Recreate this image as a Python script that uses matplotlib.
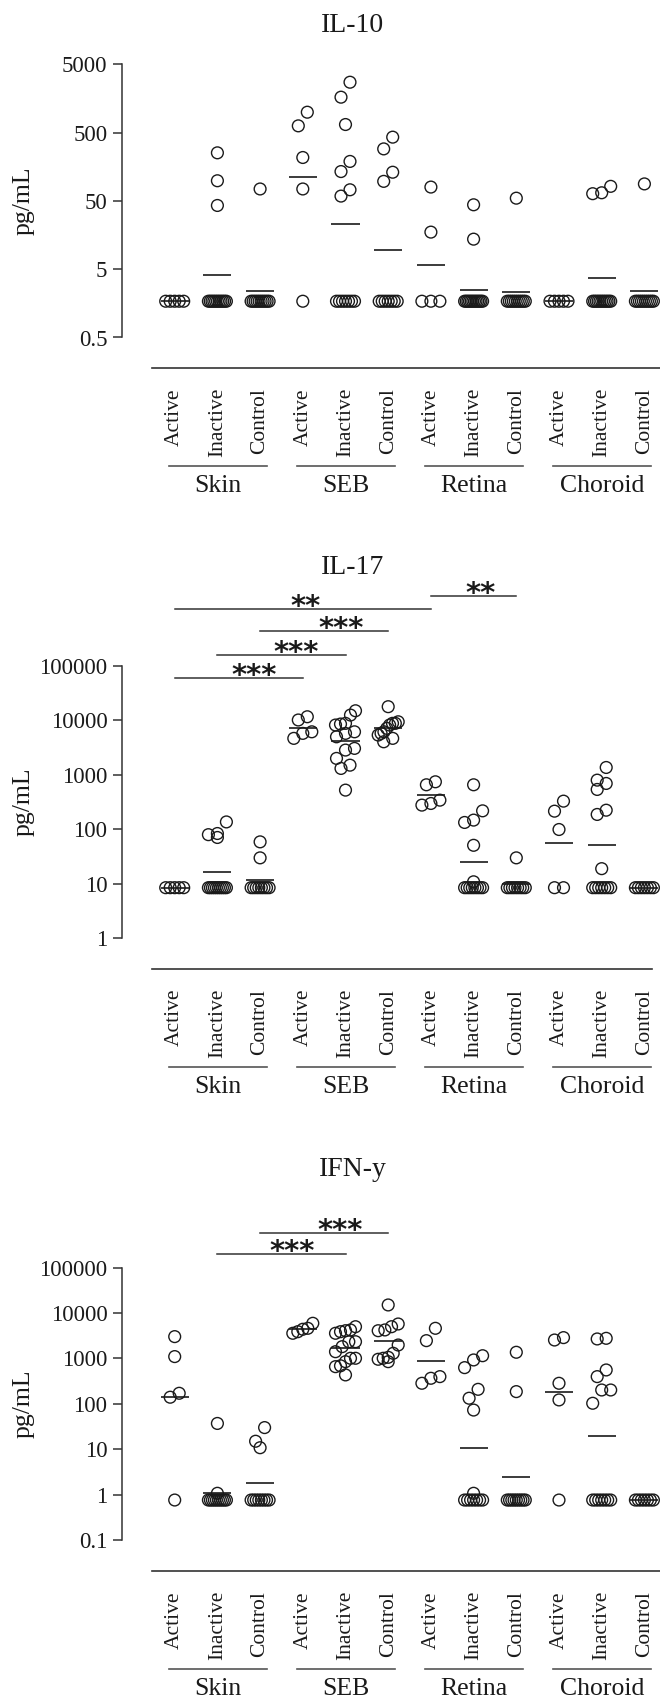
import numpy as np
import matplotlib.pyplot as plt
from matplotlib.ticker import NullLocator

W, H = 660, 1701
plt.rcParams['font.family'] = ['Liberation Serif', 'DejaVu Serif']

groups = ['Skin', 'SEB', 'Retina', 'Choroid']
conditions = ['Active', 'Inactive', 'Control']

# detected values per column: Skin A/I/C, SEB A/I/C, Retina A/I/C, Choroid A/I/C
il10_values = [[], [254, 99, 43], [75],
               [1000, 631, 217, 75], [2750, 1660, 660, 190, 135, 73, 59], [431, 290, 132, 97],
               [80, 17.5], [44, 13.8], [55],
               [], [82, 66, 64], [89]]
il10_lod_n = [5, 11, 10, 1, 7, 7, 3, 12, 10, 5, 11, 10]
il10_lod = 1.7

il17_values = [[], [137, 84, 80, 71], [59, 30],
               [11700, 10200, 6190, 5790, 4690],
               [15070, 12560, 8850, 8590, 8240, 6190, 5790, 5010, 3070, 2860, 2010, 1510, 1315, 526],
               [17900, 9460, 8850, 8850, 8240, 7160, 6190, 5790, 5400, 4690, 4060],
               [748, 659, 344, 299, 279], [659, 219, 148, 134, 51, 10.9], [30],
               [330, 216, 99.5], [1370, 802, 697, 541, 225, 188, 19], []]
il17_lod_n = [5, 10, 8, 0, 0, 0, 0, 8, 8, 2, 7, 7]
il17_lod = 8.5

ifn_values = [[3030, 1100, 171, 140], [37, 1.07], [30, 15, 10.8],
              [5960, 4620, 4400, 3890, 3590],
              [5010, 4250, 4090, 3890, 3590, 2340, 2340, 1820, 1410, 1010, 1010, 850, 690, 660, 434],
              [15100, 5750, 5010, 4250, 4090, 1980, 1300, 1060, 1010, 960, 850],
              [4620, 2470, 398, 366, 284], [1150, 927, 628, 209, 133, 73, 1.07], [1370, 186],
              [2880, 2550, 284, 122], [2780, 2690, 558, 398, 202, 202, 103], []]
ifn_lod_n = [1, 10, 8, 0, 0, 0, 0, 7, 9, 1, 7, 7]
ifn_lod = 0.76

# significance comparisons (column i, column j, label)
il17_sig = [(0, 6, '**'), (6, 8, '**'), (2, 5, '***'), (1, 4, '***'), (0, 3, '***')]
ifn_sig = [(2, 5, '***'), (1, 4, '***')]

# layout (pixels)
X0, STEP = 174.7, 42.7
AX_LEFT = 122
ink = '#1a1a1a'

panels = [
    dict(title='IL-10', values=il10_values, lod_n=il10_lod_n, lod=il10_lod,
         ylim=(0.5, 5000), ticks=[0.5, 5, 50, 500, 5000], labels=['0.5', '5', '50', '500', '5000'],
         title_y=25, top=64.5, bottom=337.5, xline=368, xend=660, sig=[], sig_y=[], sig_dx=[]),
    dict(title='IL-17', values=il17_values, lod_n=il17_lod_n, lod=il17_lod,
         ylim=(1, 1e5), ticks=[1, 10, 100, 1000, 10000, 100000],
         labels=['1', '10', '100', '1000', '10000', '100000'],
         title_y=567, top=666, bottom=938.3, xline=969, xend=652,
         sig=il17_sig, sig_y=[609, 596, 631, 655, 678], sig_dx=[3, 7, 17, 15, 15]),
    dict(title='IFN-y', values=ifn_values, lod_n=ifn_lod_n, lod=ifn_lod,
         ylim=(0.1, 1e5), ticks=[0.1, 1, 10, 100, 1000, 10000, 100000],
         labels=['0.1', '1', '10', '100', '1000', '10000', '100000'],
         title_y=1170, top=1267.7, bottom=1540, xline=1571, xend=660,
         sig=ifn_sig, sig_y=[1233, 1254.3], sig_dx=[16, 11]),
]


def fx(px):
    return px / W


def fy(py):
    return 1 - py / H


def col_px(i):
    return X0 + STEP * i


def swarm(vals, ypix, bin_px=15, step_px=9, max_w=20):
    # spread points that sit close together vertically, Prism-style
    vals = np.asarray(vals, dtype=float)
    offs = np.zeros(len(vals))
    if len(vals) == 0:
        return offs
    ys = ypix(vals)
    order = list(np.argsort(-vals))
    i = 0
    while i < len(order):
        j = i
        while j + 1 < len(order) and abs(ys[order[j + 1]] - ys[order[i]]) < bin_px:
            j += 1
        members = sorted(order[i:j + 1], key=lambda m: vals[m])
        k = len(members)
        st = step_px if k < 2 else min(step_px, max_w / (k - 1))
        for n, m in enumerate(members):
            offs[m] = (n - (k - 1) / 2) * st
        i = j + 1
    return offs


fig = plt.figure(figsize=(W / 100, H / 100), dpi=100)

for p in panels:
    top, bottom = p['top'], p['bottom']
    ax = fig.add_axes([fx(AX_LEFT), fy(bottom), fx(W - AX_LEFT), (bottom - top) / H])
    ax.set_yscale('log')
    ax.set_ylim(*p['ylim'])
    ax.set_xlim((AX_LEFT - X0) / STEP, (W - X0) / STEP)
    lo, hi = np.log10(p['ylim'])
    dec = (bottom - top) / (hi - lo)

    def ypix(v, hi=hi, top=top, dec=dec):
        return top + (hi - np.log10(v)) * dec

    for i in range(12):
        det = p['values'][i]
        n = p['lod_n'][i]
        xo = swarm(det, ypix) / STEP
        if n > 1:
            span = min(9 * (n - 1), 18)
            lod_off = np.linspace(-span / 2, span / 2, n) / STEP
        else:
            lod_off = np.zeros(n)
        xs = np.concatenate([i + xo, i + lod_off])
        ys = np.concatenate([np.asarray(det, dtype=float), np.full(n, p['lod'])])
        ax.scatter(xs, ys, s=72, facecolors='none', edgecolors=ink, linewidths=1.0,
                   clip_on=False, zorder=3)
        gm = 10 ** np.mean(np.log10(ys))
        ax.hlines(gm, i - 0.33, i + 0.33, color=ink, lw=1.2, zorder=4)

    for s in ['top', 'right', 'bottom']:
        ax.spines[s].set_visible(False)
    ax.spines['left'].set_linewidth(1.1)
    ax.spines['left'].set_color('#333333')
    ax.set_xticks([])
    ax.set_yticks(p['ticks'])
    ax.set_yticklabels(p['labels'])
    ax.yaxis.set_minor_locator(NullLocator())
    ax.tick_params(axis='y', length=6.5, width=1.1, pad=4, labelsize=16.5,
                   color='#333333', labelcolor=ink)
    ax.patch.set_alpha(0)

    fig.text(fx(353), fy(p['title_y']), p['title'], ha='center', va='center',
             fontsize=20, color=ink)
    fig.text(fx(24), fy((top + bottom) / 2), 'pg/mL', rotation=90, ha='center',
             va='center', fontsize=18.5, color=ink)

    # category axis below the plot
    xl = p['xline']
    fig.add_artist(plt.Line2D([fx(152), fx(p['xend'])], [fy(xl), fy(xl)],
                              transform=fig.transFigure, color='#333333', lw=1.2))
    for i in range(12):
        fig.text(fx(col_px(i)), fy(xl + 20), conditions[i % 3], rotation=90,
                 ha='center', va='top', fontsize=15.5, color=ink)
    for g, name in enumerate(groups):
        a, b = col_px(3 * g), col_px(3 * g + 2)
        fig.add_artist(plt.Line2D([fx(a - 6), fx(b + 7)], [fy(xl + 98), fy(xl + 98)],
                                  transform=fig.transFigure, color='#555555', lw=1.2))
        fig.text(fx((a + b) / 2), fy(xl + 118), name, ha='center', va='center',
                 fontsize=18.5, color=ink)

    # significance bars
    for (i, j, lab), yb, dx in zip(p['sig'], p['sig_y'], p['sig_dx']):
        a, b = col_px(i), col_px(j)
        fig.add_artist(plt.Line2D([fx(a), fx(b)], [fy(yb), fy(yb)],
                                  transform=fig.transFigure, color='#333333', lw=1.1))
        fig.text(fx((a + b) / 2 + dx), fy(yb + 6), lab, ha='center', va='baseline',
                 fontsize=21, family='DejaVu Sans', fontweight='bold', color=ink)

fig.savefig('out.png', dpi=100)
